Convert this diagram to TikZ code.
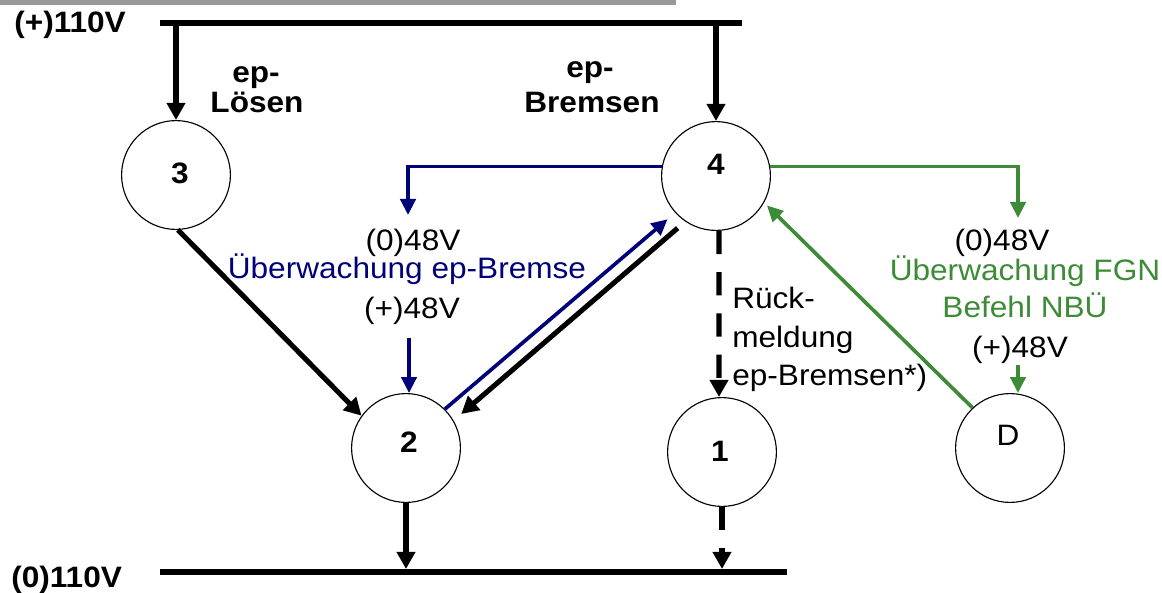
\documentclass[tikz,border=0pt]{standalone}
\usepackage{fontspec}
\setmainfont{Liberation Sans}[FakeStretch=1.07]
\usetikzlibrary{arrows.meta}

\definecolor{epblue}{RGB}{0,0,120}
\definecolor{fgngreen}{RGB}{61,139,55}
\definecolor{bargray}{RGB}{153,153,153}

\begin{document}
\begin{tikzpicture}[x=0.025cm, y=-0.025cm]
            \tikzstyle{rail} = [line width=4.3pt]
            \tikzstyle{arrow} = [line width=3.6pt, -{Triangle[length=0.43cm,width=0.45cm]}]
            \tikzstyle{dasharrow} = [arrow, dash pattern=on 0.58cm off 0.45cm]
            \tikzstyle{sig} = [line width=2.6pt, -{Triangle[length=0.4cm,width=0.38cm]}]
            \tikzstyle{unit} = [draw, circle, line width=0.8pt, minimum size=2.72cm, inner sep=0pt]
            \tikzstyle{txt} = [inner sep=0pt, anchor=base, font=\fontsize{21}{25}\selectfont]
            \tikzstyle{btxt} = [txt, font=\fontsize{21}{25}\selectfont\bfseries]

            \useasboundingbox (0,0) rectangle (1162,592);
            \fill[bargray] (0,0) rectangle (676,5);

            % supply rails
            \coordinate (p1) at (160,23);
            \coordinate (p2) at (742,23);
            \coordinate (m1) at (160,572);
            \coordinate (m2) at (787,572);
            \draw [rail] (p1) -- (p2);
            \draw [rail] (m1) -- (m2);
            \node[btxt, anchor=base west] (plus) at (14,32) {(+)110V};
            \node[btxt, anchor=base west] (minus) at (11,587) {(0)110V};

            % relays
            \node[unit] (v3) at (176,175) {};
            \node[unit] (v4) at (716,176) {};
            \node[unit] (v2) at (406,448) {};
            \node[unit] (v1) at (722,452) {};
            \node[unit] (vD) at (1010,448) {};
            \node[btxt, anchor=center] (n3) at (180,173) {3};
            \node[btxt, anchor=center] (n4) at (716,164) {4};
            \node[btxt, anchor=center] (n2) at (409,442) {2};
            \node[btxt, anchor=center] (n1) at (720,451) {1};
            \node[txt, anchor=center] (nD) at (1008,435) {D};

            % 110V circuit
            \draw [arrow] (v3.north |- p1) -- (v3.north);
            \draw [arrow] (v4.north |- p1) -- (v4.north);
            \draw [arrow] (v3.-88) -- (v2.144);
            \draw [arrow, shorten <=0.25cm, shorten >=0.25cm] (v4.236) -- (v2.30);
            \draw [arrow, shorten >=0.075cm] (v2.south) -- (v2.south |- m1);
            \draw [dasharrow] ([xshift=0.075cm]v4.south) -- ([xshift=-0.075cm]v1.north);
            \draw [dasharrow, shorten >=0.075cm] (v1.south) -- (v1.south |- m1);

            \node[btxt] (lo1) at (256,82) {ep-};
            \node[btxt] (lo2) at (257,112) {Lösen};
            \node[btxt] (br1) at (590,77) {ep-};
            \node[btxt] (br2) at (592,112) {Bremsen};
            \node[txt, anchor=base west] (rm1) at (732,308) {Rück-};
            \node[txt, anchor=base west] (rm2) at (732,347) {meldung};
            \node[txt, anchor=base west] (rm3) at (732,385) {ep-Bremsen*)};

            % 48V monitoring ep-brake
            \coordinate (eb1) at (408,215);
            \coordinate (eb2) at (409,338);
            \draw [sig, epblue] (v4.170) -| (eb1);
            \draw [sig, epblue] (eb2) -- (eb2 |- v2.north);
            \draw [sig, epblue, shorten >=0.25cm] (v2.45) -- (v4.222);
            \node[txt] (eb3) at (413,250) {(0)48V};
            \node[txt, text=epblue] (eb4) at (407,278) {Überwachung ep-Bremse};
            \node[txt] (eb5) at (412,318) {(+)48V};

            % 48V monitoring FGN
            \coordinate (fg1) at (1018,218);
            \coordinate (fg2) at (1018,365);
            \draw [sig, fgngreen] (v4.10) -| (fg1);
            \draw [sig, fgngreen] (fg2) -- (fg2 |- vD.north);
            \draw [sig, fgngreen, shorten >=0.1cm] (vD.133) -- (v4.331);
            \node[txt] (fg3) at (1002,250) {(0)48V};
            \node[txt, text=fgngreen] (fg4) at (1025,280) {Überwachung FGN};
            \node[txt, text=fgngreen] (fg5) at (1025,317) {Befehl NBÜ};
            \node[txt] (fg6) at (1020,357) {(+)48V};
        \end{tikzpicture}
\end{document}
